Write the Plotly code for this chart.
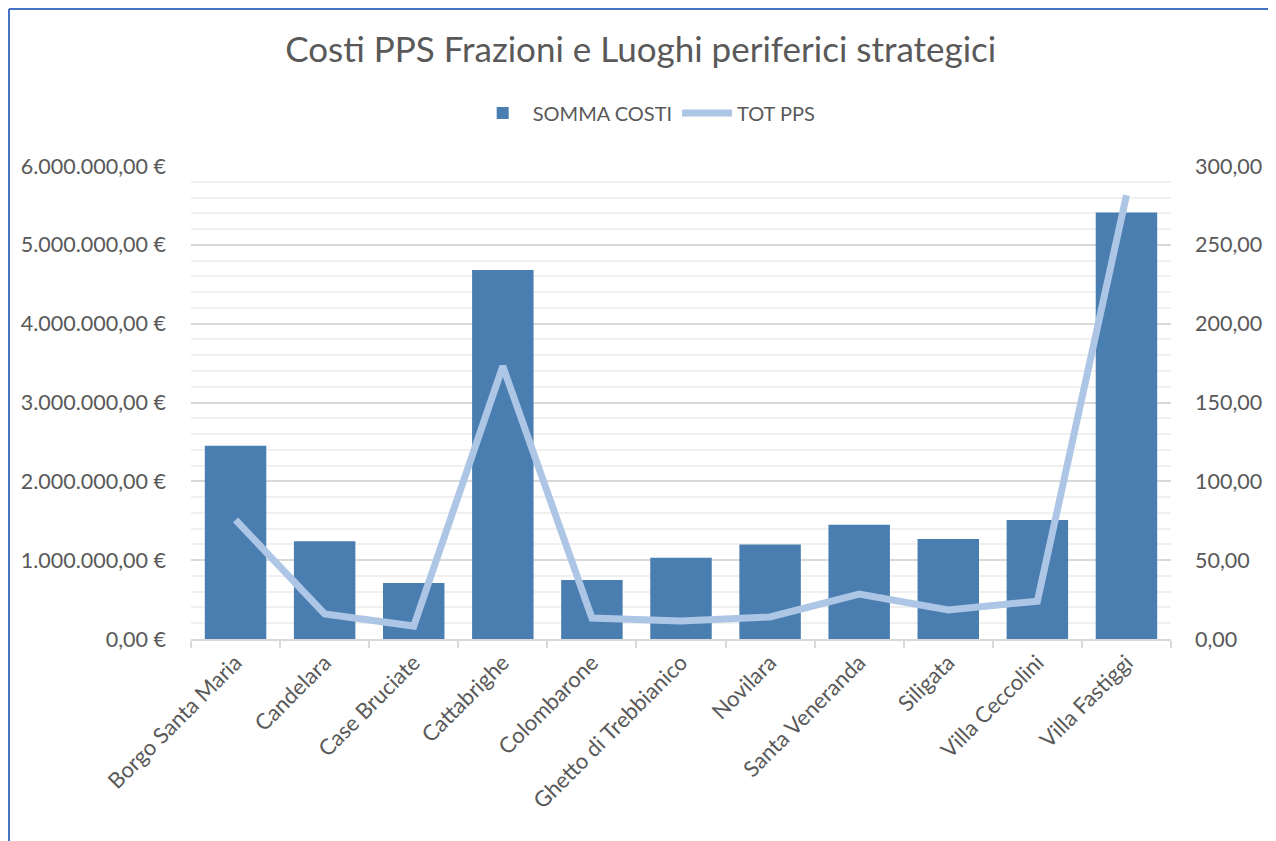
import plotly.graph_objects as go

categories = ["Borgo Santa Maria", "Candelara", "Case Bruciate", "Cattabrighe", "Colombarone",
              "Ghetto di Trebbianico", "Novilara", "Santa Veneranda", "Siligata",
              "Villa Ceccolini", "Villa Fastiggi"]
somma_costi = [2450000, 1240000, 710000, 4680000, 750000, 1030000, 1200000, 1450000, 1270000, 1510000, 5410000]
tot_pps = [75.5, 15.9, 8.2, 173.0, 13.3, 11.4, 14.0, 28.5, 18.4, 24.0, 281.5]

left_tickvals = [0, 1000000, 2000000, 3000000, 4000000, 5000000, 6000000]
left_ticktext = ["0,00 €", "1.000.000,00 €", "2.000.000,00 €", "3.000.000,00 €",
                 "4.000.000,00 €", "5.000.000,00 €", "6.000.000,00 €"]
right_tickvals = [0, 50, 100, 150, 200, 250, 300]
right_ticktext = ["0,00", "50,00", "100,00", "150,00", "200,00", "250,00", "300,00"]

FONT = "Lato"
TXT = "#595959"

fig = go.Figure()
fig.add_trace(go.Bar(x=categories, y=somma_costi, name="SOMMA COSTI",
                     marker=dict(color="#4A7EB0", line=dict(width=0)), yaxis="y"))
fig.add_trace(go.Scatter(x=categories, y=tot_pps, name="TOT PPS", mode="lines",
                         line=dict(color="#AEC6E6", width=7), yaxis="y2"))

fig.update_layout(
    width=1268, height=833,
    margin=dict(l=183, r=105, t=158, b=202, autoexpand=False),
    paper_bgcolor="white", plot_bgcolor="white",
    font=dict(family=FONT, color=TXT, size=21),
    title=dict(text="Costi PPS Frazioni e Luoghi periferici strategici",
               x=0.499, xanchor="center", y=0.95, yanchor="middle",
               font=dict(size=35, color=TXT, family=FONT)),
    bargap=0.31,
    showlegend=True,
    legend=dict(orientation="h", x=0.465, xanchor="center", y=1.112, yanchor="middle",
                font=dict(size=20, color=TXT), itemwidth=50, traceorder="normal"),
    xaxis=dict(showgrid=False, showline=True, linecolor="#D9D9D9", linewidth=2,
               ticks="outside", tickson="boundaries", ticklen=7, tickcolor="#D9D9D9",
               tickwidth=2, tickangle=-45, tickfont=dict(size=22, color=TXT)),
    yaxis=dict(range=[0, 6000000], tickvals=left_tickvals, ticktext=left_ticktext,
               showgrid=True, gridcolor="#D9D9D9", gridwidth=1.5, zeroline=False,
               minor=dict(dtick=200000, showgrid=True, gridcolor="#F0F0F0", gridwidth=1.5),
               ticks="", ticklabelstandoff=24, tickfont=dict(size=21.5, color=TXT)),
    yaxis2=dict(range=[0, 300], tickvals=right_tickvals, ticktext=right_ticktext,
                overlaying="y", side="right", showgrid=False, zeroline=False,
                ticks="", ticklabelstandoff=23, tickfont=dict(size=21.5, color=TXT)),
    shapes=[
        dict(type="line", xref="paper", yref="paper", x0=-0.1857, x1=1.11, y0=1.3319, y1=1.3319,
             line=dict(color="#4472C4", width=2)),
        dict(type="line", xref="paper", yref="paper", x0=-0.1857, x1=-0.1857, y0=1.3319, y1=-0.5,
             line=dict(color="#4472C4", width=2)),
    ],
)

fig.write_html("out.html")
